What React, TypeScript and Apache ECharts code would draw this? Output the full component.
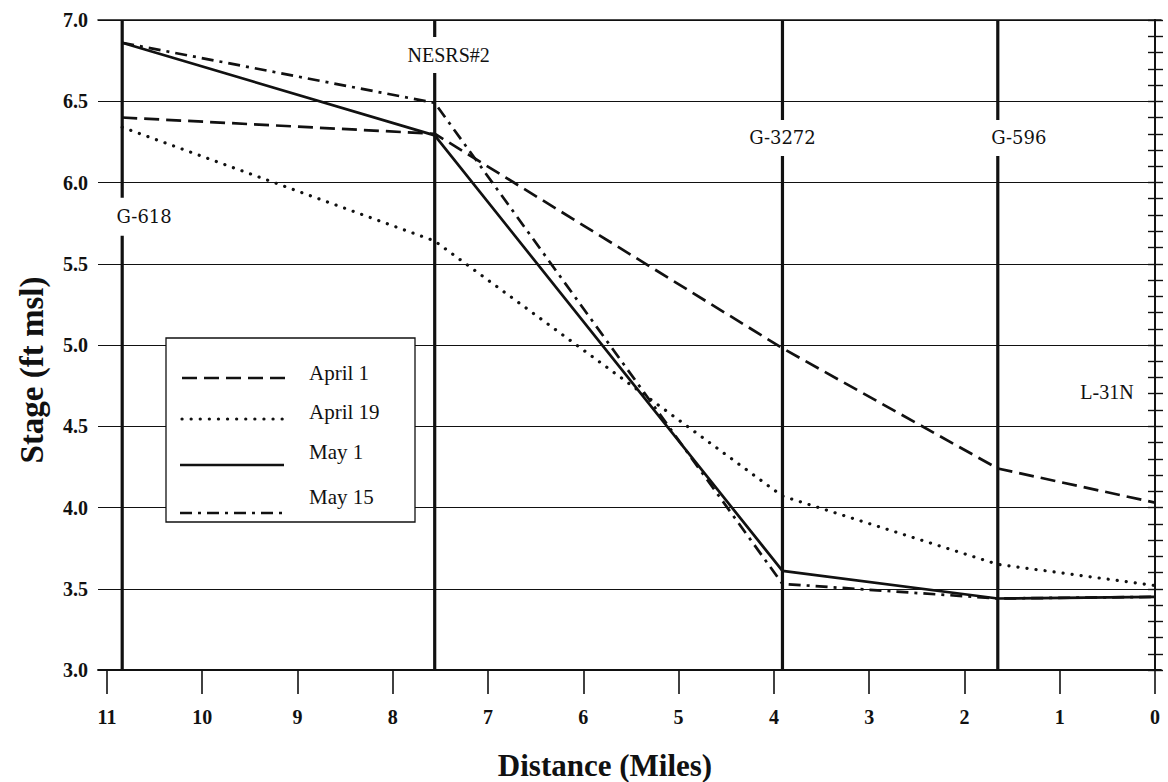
import React, { useEffect, useRef } from "react";
import * as echarts from "echarts";

// ---- data ----
const stationNames = ["G-618", "NESRS#2", "G-3272", "G-596"];
const stationMiles = [10.84, 7.56, 3.91, 1.65];
const profileMiles = [10.84, 7.56, 3.91, 1.65, 0];
const seriesNames = ["April 1", "April 19", "May 1", "May 15"];
const april1 = [6.4, 6.3, 4.98, 4.24, 4.03];
const april19 = [6.34, 5.64, 4.07, 3.65, 3.52];
const may1 = [6.86, 6.29, 3.61, 3.44, 3.45];
const may15 = [6.86, 6.49, 3.53, 3.44, 3.45];
const xTickValues = [0, 1, 2, 3, 4, 5, 6, 7, 8, 9, 10, 11];
const canalName = "L-31N";
const canalMile = 0;

// ---- styling ----
const BLACK = "#111";
const SERIF = "Liberation Serif";
const lineStyles: any[] = [
  { type: [15, 7], width: 2.7 },
  { type: [0.1, 9], width: 3.2, cap: "round" },
  { type: "solid", width: 2.7 },
  { type: [12, 6, 3, 6], width: 2.7 },
];
const stationLabelStyle: any[] = [
  { y: 5.79, dx: 22, family: "DejaVu Serif", size: 18, pad: [10, 2] },
  { y: 6.785, dx: 14, family: SERIF, size: 20, pad: [8, 2] },
  { y: 6.274, dx: 0, family: "DejaVu Serif", size: 18, pad: [9, 2] },
  { y: 6.274, dx: 21, family: "DejaVu Serif", size: 18, pad: [9, 2] },
];
const canalLabelStyle = { y: 4.711, dx: -48 };

function baseOption() {
  const seriesData = [april1, april19, may1, may15];
  const dataSeries = seriesNames.map((name, i) => ({
    name,
    type: "line",
    data: profileMiles.map((m, j) => [m, seriesData[i][j]]),
    symbol: "none",
    silent: true,
    z: 3,
    lineStyle: { color: BLACK, ...lineStyles[i] },
  }));

  const stationSeries = stationMiles.map((m, i) => ({
    name: stationNames[i] + " line",
    type: "line",
    data: [
      [m, 7],
      [m, 3],
    ],
    symbol: "none",
    silent: true,
    z: 2,
    lineStyle: { color: BLACK, width: 3.2 },
  }));

  return {
    animation: false,
    backgroundColor: "#fff",
    textStyle: { fontFamily: SERIF, color: BLACK },
    grid: { left: 98, right: 7, top: 20, bottom: 112, containLabel: false },
    xAxis: [
      {
        type: "value",
        inverse: true,
        min: -0.063,
        max: 11.094,
        position: "bottom",
        axisLine: { show: true, lineStyle: { color: BLACK, width: 1.8 } },
        axisTick: {
          show: true,
          inside: false,
          length: 24,
          customValues: xTickValues,
          lineStyle: { color: BLACK, width: 1.6 },
        },
        axisLabel: {
          show: true,
          customValues: xTickValues,
          margin: 37,
          fontFamily: SERIF,
          fontWeight: "bold",
          fontSize: 20,
          color: BLACK,
        },
        splitLine: { show: false },
      },
      {
        type: "value",
        inverse: true,
        min: -0.063,
        max: 11.094,
        position: "top",
        axisLine: { show: true, lineStyle: { color: BLACK, width: 1.6 } },
        axisTick: { show: false },
        axisLabel: { show: false },
        splitLine: { show: false },
      },
    ],
    yAxis: [
      {
        type: "value",
        min: 3,
        max: 7,
        interval: 0.5,
        position: "left",
        axisLine: { show: true, lineStyle: { color: BLACK, width: 1.8 } },
        axisTick: { show: true, inside: true, length: 8, lineStyle: { color: BLACK, width: 1.4 } },
        minorTick: { show: true, splitNumber: 5, length: 8, lineStyle: { color: BLACK, width: 1.4 } },
        axisLabel: {
          show: true,
          margin: 10,
          formatter: (v: number) => v.toFixed(1),
          fontFamily: SERIF,
          fontWeight: "bold",
          fontSize: 20,
          color: BLACK,
        },
        splitLine: { show: true, lineStyle: { color: BLACK, width: 1.1 } },
      },
      {
        type: "value",
        min: 3,
        max: 7,
        interval: 0.5,
        position: "right",
        axisLine: { show: true, lineStyle: { color: BLACK, width: 1.8 } },
        axisTick: { show: true, inside: true, length: 7, lineStyle: { color: BLACK, width: 1.4 } },
        minorTick: { show: true, splitNumber: 5, length: 7, lineStyle: { color: BLACK, width: 1.4 } },
        axisLabel: { show: false },
        splitLine: { show: false },
      },
    ],
    series: [...stationSeries, ...dataSeries],
  };
}

function buildGraphic(chart: any) {
  const out: any[] = [];

  stationMiles.forEach((m, i) => {
    const s = stationLabelStyle[i];
    const p = chart.convertToPixel({ xAxisIndex: 0, yAxisIndex: 0 }, [m, s.y]);
    out.push({
      type: "text",
      z: 50,
      x: p[0] + s.dx,
      y: p[1],
      style: {
        text: stationNames[i],
        fontFamily: s.family,
        fontSize: s.size,
        fill: BLACK,
        backgroundColor: "#fff",
        padding: s.pad,
        textAlign: "center",
        textVerticalAlign: "middle",
      },
    });
  });
  const cp = chart.convertToPixel({ xAxisIndex: 0, yAxisIndex: 0 }, [canalMile, canalLabelStyle.y]);
  out.push({
    type: "text",
    z: 50,
    x: cp[0] + canalLabelStyle.dx,
    y: cp[1],
    style: {
      text: canalName,
      fontFamily: SERIF,
      fontSize: 20,
      fill: BLACK,
      textAlign: "center",
      textVerticalAlign: "middle",
    },
  });

  const legendX0 = 166;
  const legendY0 = 338;
  const legendRows = [
    { lineY: 378, textY: 373, x1: 182, x2: 287 },
    { lineY: 419, textY: 412, x1: 182, x2: 287 },
    { lineY: 465, textY: 452, x1: 180, x2: 284 },
    { lineY: 513, textY: 497, x1: 180, x2: 284 },
  ];
  const legendChildren: any[] = [
    {
      type: "rect",
      shape: { x: legendX0, y: legendY0, width: 249, height: 184 },
      style: { fill: "#fff", stroke: BLACK, lineWidth: 1.3 },
    },
  ];
  seriesNames.forEach((name, i) => {
    const r = legendRows[i];
    const ls = lineStyles[i];
    legendChildren.push({
      type: "line",
      shape: { x1: r.x1, y1: r.lineY, x2: r.x2, y2: r.lineY },
      style: {
        stroke: BLACK,
        lineWidth: ls.width,
        lineDash: ls.type === "solid" ? null : ls.type,
        lineCap: ls.cap || "butt",
      },
    });
    legendChildren.push({
      type: "text",
      x: 309,
      y: r.textY,
      style: {
        text: name,
        fontFamily: SERIF,
        fontSize: 21,
        fill: BLACK,
        textAlign: "left",
        textVerticalAlign: "middle",
      },
    });
  });
  out.push({ type: "group", z: 100, children: legendChildren });

  out.push({
    type: "text",
    z: 100,
    x: 605,
    y: 765,
    style: {
      text: "Distance (Miles)",
      fontFamily: SERIF,
      fontWeight: "bold",
      fontSize: 31,
      fill: BLACK,
      textAlign: "center",
      textVerticalAlign: "middle",
    },
  });
  out.push({
    type: "text",
    z: 100,
    x: 32,
    y: 370,
    rotation: Math.PI / 2,
    style: {
      text: "Stage (ft msl)",
      fontFamily: SERIF,
      fontWeight: "bold",
      fontSize: 33,
      fill: BLACK,
      textAlign: "center",
      textVerticalAlign: "middle",
    },
  });
  return out;
}

export default function App() {
  const ref = useRef<HTMLDivElement>(null);
  useEffect(() => {
    if (!ref.current) return;
    const chart = echarts.init(ref.current, null, { renderer: "svg" });
    chart.setOption(baseOption() as any);
    chart.setOption({ graphic: buildGraphic(chart) } as any);
    return () => chart.dispose();
  }, []);
  return (
    <div
      ref={ref}
      style={{ position: "fixed", left: 0, top: 0, width: 1168, height: 782, background: "#fff" }}
    />
  );
}
